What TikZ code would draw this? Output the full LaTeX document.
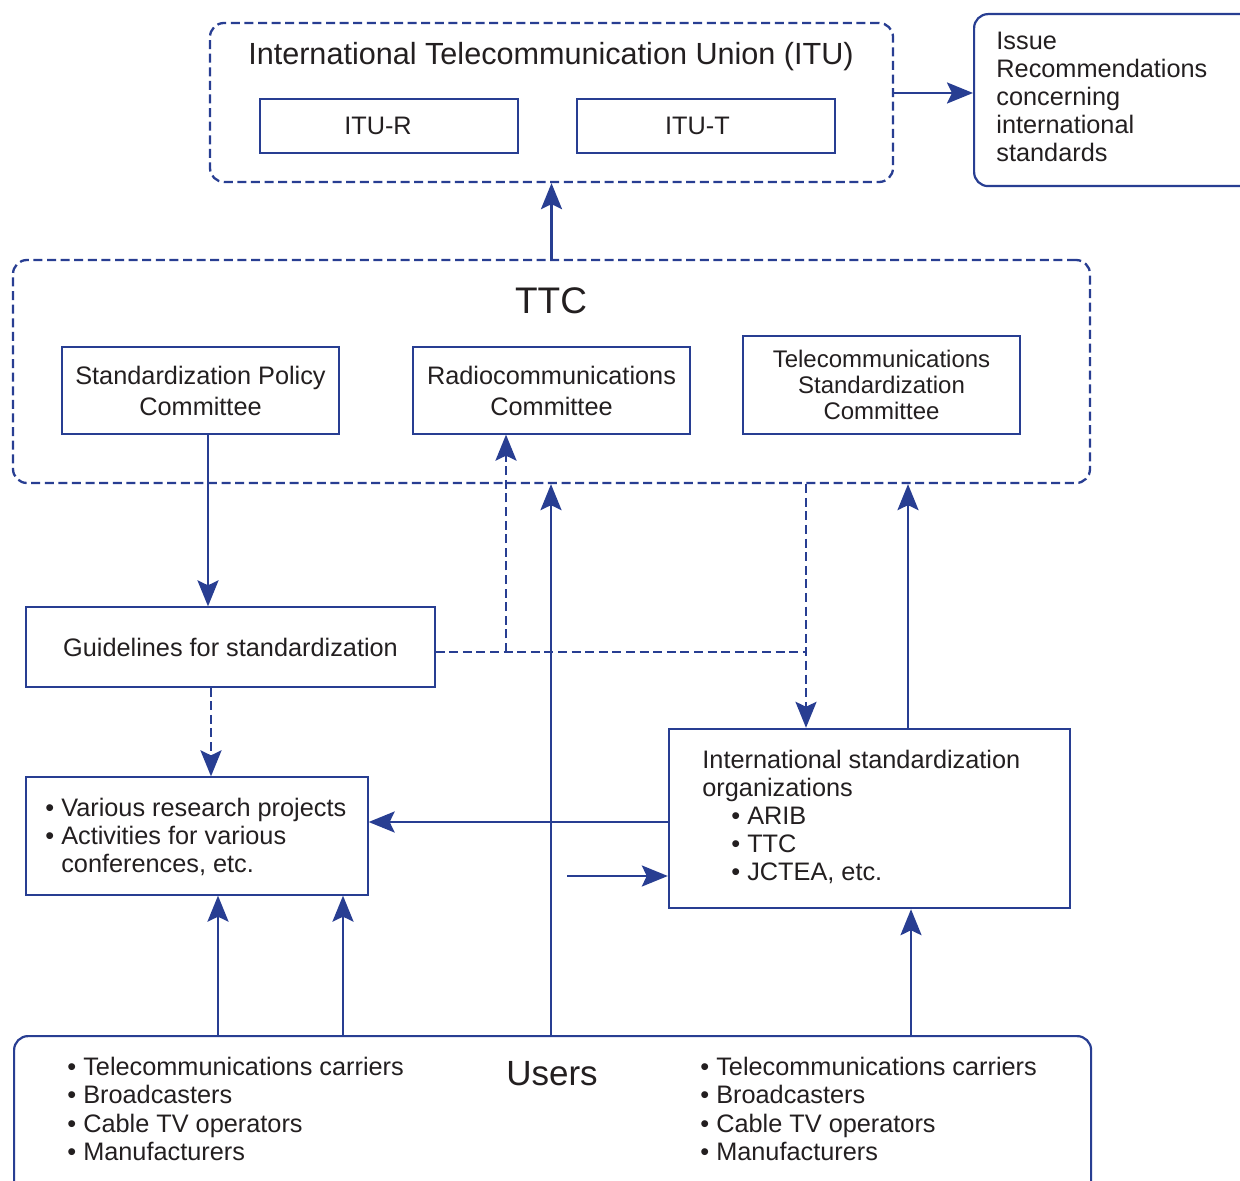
\documentclass[tikz,border=0pt]{standalone}
\usepackage{fontspec}
\setmainfont{Liberation Sans}
\usepackage{xcolor}
\usetikzlibrary{arrows.meta}
\definecolor{ttcblue}{RGB}{40,62,146}
\definecolor{ttctext}{RGB}{35,31,32}
\newcommand\bodyfont{\fontsize{12.65}{14.1}\selectfont}

\begin{document}
\begin{tikzpicture}[x=0.5pt,y=-0.5pt]
  \useasboundingbox (0,0) rectangle (1240,1181);
  \fill[white] (0,0) rectangle (1240,1181);
  \clip (0,0) rectangle (1240,1181);
  \tikzstyle{every node}=[text=ttctext,font=\bodyfont]
  \tikzstyle{dashgroup}=[draw=ttcblue,line width=1.15pt,dash pattern=on 4.5pt off 2.3pt,rounded corners=7pt]
  \tikzstyle{unitbox}=[draw=ttcblue,line width=0.65pt,rectangle,align=center]
  \tikzstyle{roundbox}=[draw=ttcblue,line width=1.1pt,rounded corners=7pt]
  \tikzstyle{listtext}=[inner sep=0pt,align=left,anchor=west]
  \tikzstyle{flow}=[draw=ttcblue,line width=1.3pt,-{Stealth[length=13pt,width=10.5pt,inset=2.5pt]}]
  \tikzstyle{dflow}=[flow,dash pattern=on 4.5pt off 2.3pt]
  \tikzstyle{dline}=[draw=ttcblue,line width=1.15pt,dash pattern=on 4.5pt off 2.3pt]
  % ITU
  \node[dashgroup,minimum width=341.5pt,minimum height=79.5pt] (itu) at (551.5,102.5) {};
  \node[font=\fontsize{15.3}{17}\selectfont] (itutitle) at (551,57) {International Telecommunication Union (ITU)};
  \node[unitbox,minimum width=129pt,minimum height=27pt] (itur) at (389,126) {ITU-R\hspace*{11pt}};
  \node[unitbox,minimum width=129pt,minimum height=27pt] (itut) at (706,126) {ITU-T\hspace*{8.5pt}};
  \node[roundbox,minimum width=180pt,minimum height=86pt,anchor=north west] (issue) at (973,13) {};
  \node[listtext] (issuetext) at (996,97) {Issue\\Recommendations\\concerning\\international\\standards};
  % TTC
  \node[dashgroup,minimum width=538.5pt,minimum height=111.5pt] (ttc) at (551.5,371.5) {};
  \node[font=\fontsize{18.5}{20}\selectfont] (ttctitle) at (551,301) {TTC};
  \node[unitbox,minimum width=138.5pt,minimum height=43.5pt,font=\fontsize{12.65}{15.5}\selectfont] (spc) at (200.5,390.5) {Standardization Policy\\Committee};
  \node[unitbox,minimum width=138.5pt,minimum height=43.5pt,font=\fontsize{12.65}{15.5}\selectfont] (rc) at (551.5,390.5) {Radiocommunications\\Committee};
  \node[unitbox,minimum width=138.5pt,minimum height=49pt,font=\fontsize{12}{13}\selectfont] (tsc) at (881.5,385) {Telecommunications\\Standardization\\Committee};
  % middle
  \node[unitbox,minimum width=204.5pt,minimum height=40pt] (guide) at (230.5,647) {Guidelines for standardization};
  \node[unitbox,minimum width=171pt,minimum height=59pt] (research) at (197,836) {};
  \node[listtext] (researchtext) at (45,837) {• Various research projects\\• Activities for various\\\hphantom{•} conferences, etc.};
  \node[draw=ttcblue,line width=1.2pt,minimum width=200.5pt,minimum height=89.5pt] (iso) at (869.5,818.5) {};
  \node[listtext] (isotext) at (702,817) {International standardization\\organizations\\\hspace*{14.5pt}• ARIB\\\hspace*{14.5pt}• TTC\\\hspace*{14.5pt}• JCTEA, etc.};
  % users
  \node[roundbox,minimum width=538.5pt,minimum height=100pt,anchor=north west] (users) at (13,1035) {};
  \node[font=\fontsize{17.5}{20}\selectfont] (userstitle) at (552,1074) {Users};
  \node[listtext] (usersleft) at (67,1109) {• Telecommunications carriers\\• Broadcasters\\• Cable TV operators\\• Manufacturers};
  \node[listtext] (usersright) at (700,1109) {• Telecommunications carriers\\• Broadcasters\\• Cable TV operators\\• Manufacturers};
  % connectors
  \draw[flow] (itu.east |- 0,93) -- (issue.west |- 0,93);
  \draw[flow] (ttc.north) -- (itu.south);
  \draw[flow] (spc.south -| 208,0) -- (guide.north -| 208,0);
  \draw[dflow] (guide.south -| 211,0) -- (research.north -| 211,0);
  \coordinate (rcfork) at (506,652);
  \coordinate (isofork) at (806,652);
  \draw[dline] (guide.east |- rcfork) -- (isofork);
  \draw[dflow] (rcfork) -- (rc.south -| rcfork);
  \draw[dflow] (ttc.south -| isofork) -- (iso.north -| isofork);
  \draw[flow] (iso.west |- 0,822) -- (research.east |- 0,822);
  \coordinate (isofeed) at (567,876);
  \draw[flow] (isofeed) -- (iso.west |- isofeed);
  \draw[flow] (iso.north -| 908,0) -- (ttc.south -| 908,0);
  \draw[flow] (users.north -| 551,0) -- (ttc.south -| 551,0);
  \foreach \x in {218,343}
    \draw[flow] (users.north -| \x,0) -- (research.south -| \x,0);
  \draw[flow] (users.north -| 911,0) -- (iso.south -| 911,0);
\end{tikzpicture}
\end{document}
